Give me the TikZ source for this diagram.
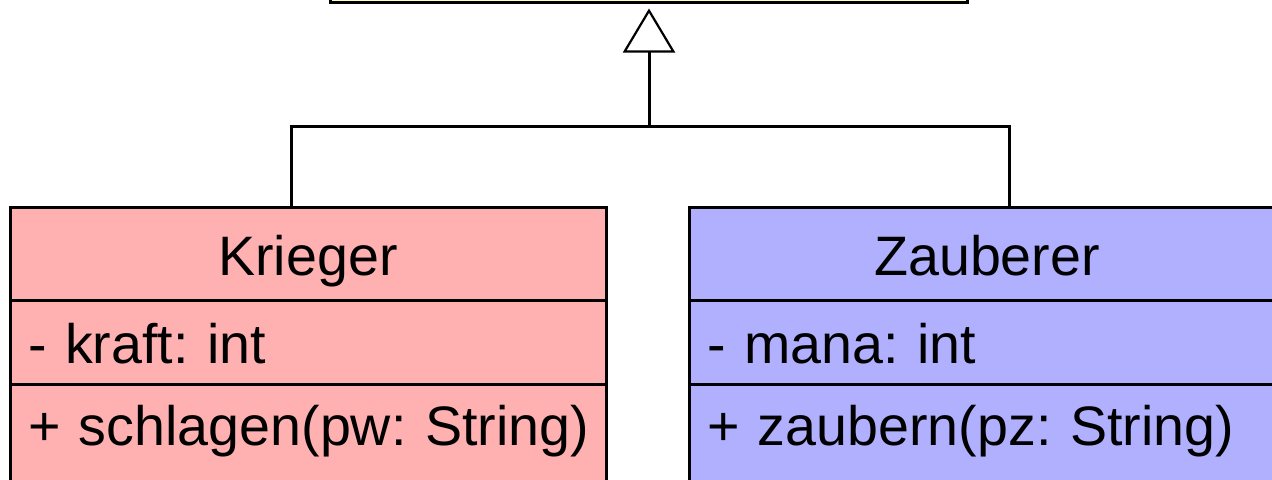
\documentclass[tikz,border=0pt]{standalone}
\usepackage{fontspec}
\setmainfont{Liberation Sans}
\usetikzlibrary{arrows.meta,positioning}

\definecolor{gelb}{RGB}{255,255,192}
\definecolor{rosa}{RGB}{255,176,176}
\definecolor{lila}{RGB}{176,176,255}
\frenchspacing

\begin{document}
\begin{tikzpicture}[x=0.5pt,y=0.5pt]
\tikzstyle{klasse}=[rectangle,draw=black,line width=1.5pt,
inner xsep=9pt,inner ysep=0pt,outer sep=0pt,
minimum width=298pt,text width=280pt,
font=\fontsize{27.8}{33}\selectfont,text height=21.5pt,text depth=0pt]
\tikzstyle{kopf}=[klasse,minimum height=46.5pt,align=center]
\tikzstyle{attribut}=[klasse,minimum height=42pt,align=left]
\tikzstyle{methode}=[klasse,minimum height=50pt,text depth=10.5pt,align=left]
\tikzstyle{linie}=[line width=1.5pt]

\useasboundingbox (0,0) rectangle (1272,-479);
\clip (0,0) rectangle (1272,-479);

% Oberklasse (nur der untere Rand)
\node[rectangle,draw=black,fill=gelb,line width=1.5pt,
minimum width=318.5pt,minimum height=60pt,anchor=south] at (649,-3.5) (figur) {};

% Krieger
\node[kopf,fill=rosa,anchor=north west] at (10,-207) (krieger) {Krieger};
\node[attribut,fill=rosa,below=0pt of krieger] (kriegerA) {\mbox{- kraft: int}};
\node[methode,fill=rosa,below=0pt of kriegerA] (kriegerM) {\mbox{+ schlagen(pw: String)}};

% Zauberer
\node[kopf,fill=lila,anchor=north west] at (689,-207) (zauberer) {Zauberer};
\node[attribut,fill=lila,below=0pt of zauberer] (zaubererA) {\mbox{- mana: int}};
\node[methode,fill=lila,below=0pt of zaubererA] (zaubererM) {\mbox{+ zaubern(pz: String)}};

% Vererbung
\coordinate (gabel) at (649,-126);
\draw[linie] ([xshift=140.5pt]krieger.north west) |- (gabel);
\draw[linie] ([xshift=160pt]zauberer.north west) |- (gabel);
\draw[linie,-{Triangle[open,length=22pt,width=26pt,line width=1.1pt]},shorten >=2.5pt] (gabel) -- (figur);

\end{tikzpicture}
\end{document}
